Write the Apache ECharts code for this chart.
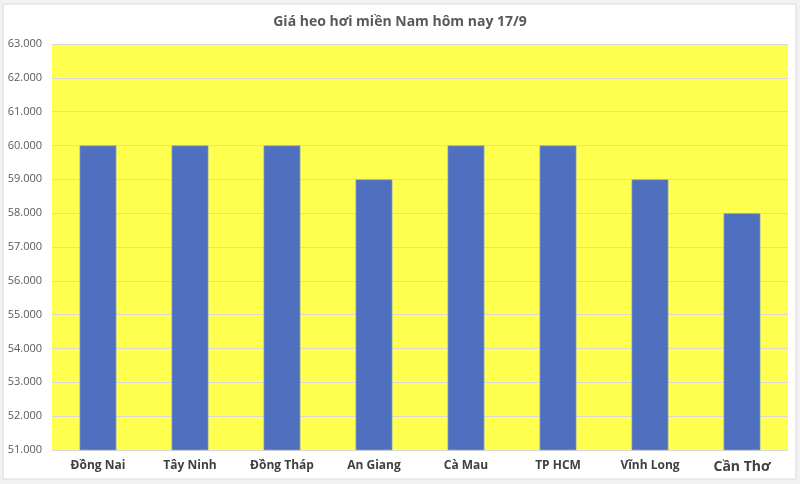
<!DOCTYPE html>
<html>
<head>
<meta charset="utf-8">
<script src="https://cdn.jsdelivr.net/npm/echarts@6/dist/echarts.min.js"></script>
<style>
html,body{margin:0;padding:0;background:#f2f2f2;}
#c{width:800px;height:484px;}
</style>
</head>
<body>
<div id="c"></div>
<script>
const titleText = 'Giá heo hơi miền Nam hôm nay 17/9';
const categories = ['Đồng Nai','Tây Ninh','Đồng Tháp','An Giang','Cà Mau','TP HCM','Vĩnh Long','Cần Thơ'];
const prices = [60000,60000,60000,59000,60000,60000,59000,58000];
const yMin = 51000, yMax = 63000, yStep = 1000;

const chart = echarts.init(document.getElementById('c'), null, {renderer:'canvas'});
const fmt = v => String(v).replace(/\B(?=(\d{3})+(?!\d))/g, '.');
chart.setOption({
  backgroundColor: '#f2f2f2',
  animation: false,
  graphic: [
    {type:'rect', shape:{x:3,y:4,width:793,height:475}, style:{fill:'#ffffff', stroke:'#d9d9d9', lineWidth:1}, z:-10}
  ],
  title: {
    text: titleText, left: 'center', top: 10,
    textStyle: {fontFamily:'Open Sans', fontSize:14, fontWeight:'bold', color:'#595959'}
  },
  grid: {left:52, right:12, top:44, bottom:34, show:true, backgroundColor:'#ffff4f', borderWidth:0},
  xAxis: {
    type:'category', data: categories,
    axisLine:{show:true, lineStyle:{color:'#d9d9d9'}},
    axisTick:{show:false},
    axisLabel:{
      interval:0,
      fontFamily:'Open Sans', fontWeight:'bold', fontSize:12, color:'#404040', margin:10,
      formatter: v => v === 'Cần Thơ' ? '{big|' + v + '}' : v,
      rich:{big:{fontFamily:'Open Sans', fontWeight:'bold', fontSize:14, color:'#404040'}}
    }
  },
  yAxis: {
    type:'value', min:yMin, max:yMax, interval:yStep,
    axisLine:{show:false}, axisTick:{show:false},
    splitLine:{lineStyle:{color:'#d9d9d9', width:1}},
    axisLabel:{fontFamily:'Open Sans', fontSize:11, color:'#595959', margin:10, formatter: fmt}
  },
  series: [{
    type:'bar', data: prices, barWidth:'40%',
    itemStyle:{color:'#4f70be', borderColor:'#9aa9c9', borderWidth:0.6}
  }]
});
</script>
</body>
</html>
